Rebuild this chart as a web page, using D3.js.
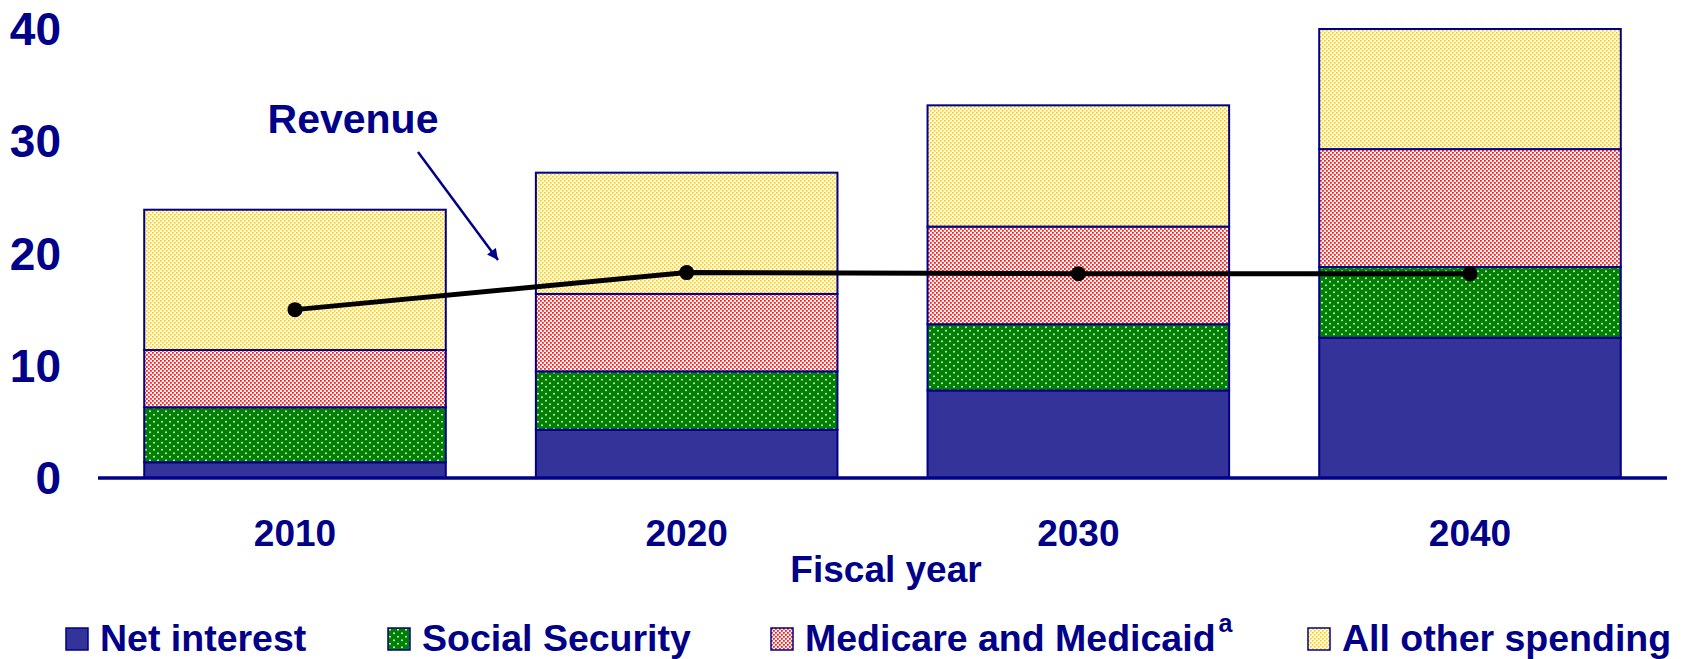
<!DOCTYPE html>
<html>
<head>
<meta charset="utf-8">
<script src="https://cdn.jsdelivr.net/npm/d3@7"></script>
<style>
  body { margin: 0; background: #fff; }
  text { font-family: Arial, "Liberation Sans", sans-serif; font-weight: bold; fill: #000088; }
</style>
</head>
<body>
<div class="chart"></div>
<script>
// values, % of GDP
const years = ["2010", "2020", "2030", "2040"]
const netInterest = [1.4, 4.3, 7.8, 12.5]
const socialSecurity = [4.9, 5.2, 5.9, 6.3]
const medicare = [5.1, 6.9, 8.7, 10.5]
const otherSpending = [12.5, 10.8, 10.8, 10.7]
const revenue = [15.0, 18.3, 18.2, 18.2]
const yTicks = [0, 10, 20, 30, 40]
const seriesNames = ["Net interest", "Social Security", "Medicare and Medicaid", "All other spending"]

const width = 1684
const height = 659
const navy = "#000088"

const rows = years.map((yr, i) => ({
    year: yr,
    net: netInterest[i],
    ss: socialSecurity[i],
    med: medicare[i],
    other: otherSpending[i]
}))
const keys = ["net", "ss", "med", "other"]
const fills = ["#333399", "url(#pGreen)", "url(#pRed)", "url(#pYellow)"]

const xScale = d3.scaleBand()
    .domain(years)
    .range([98, 1667])
    .paddingInner(0.23)
    .paddingOuter(0.118)

const yScale = d3.scaleLinear()
    .domain([0, 40])
    .range([478, 29])

let svg = d3.select(".chart")
    .append("svg")
    .attr("width", width)
    .attr("height", height)

// dotted fills
const defs = svg.append("defs")
const pg = defs.append("pattern").attr("id", "pGreen")
    .attr("patternUnits", "userSpaceOnUse").attr("width", 8).attr("height", 7)
pg.append("rect").attr("width", 8).attr("height", 7).attr("fill", "#008000")
pg.append("circle").attr("cx", 2).attr("cy", 1.75).attr("r", 0.9).attr("fill", "#e8f4e8")
pg.append("circle").attr("cx", 6).attr("cy", 5.25).attr("r", 0.9).attr("fill", "#e8f4e8")

const pr = defs.append("pattern").attr("id", "pRed")
    .attr("patternUnits", "userSpaceOnUse").attr("width", 4).attr("height", 4)
pr.append("rect").attr("width", 4).attr("height", 4).attr("fill", "#fff4f4")
pr.append("rect").attr("x", 0).attr("y", 0).attr("width", 1.8).attr("height", 1.8).attr("fill", "#ff2020")
pr.append("rect").attr("x", 2).attr("y", 2).attr("width", 1.8).attr("height", 1.8).attr("fill", "#ff2020")

const py = defs.append("pattern").attr("id", "pYellow")
    .attr("patternUnits", "userSpaceOnUse").attr("width", 4).attr("height", 4)
py.append("rect").attr("width", 4).attr("height", 4).attr("fill", "#fffbe8")
py.append("rect").attr("x", 0).attr("y", 0).attr("width", 1.6).attr("height", 1.6).attr("fill", "#ffcc00")
py.append("rect").attr("x", 2).attr("y", 2).attr("width", 1.6).attr("height", 1.6).attr("fill", "#ffcc00")

const stacked = d3.stack().keys(keys)(rows)

svg.append("g")
    .selectAll("g")
    .data(stacked)
    .join("g")
    .attr("fill", (d, i) => fills[i])
    .selectAll("rect")
    .data(d => d)
    .join("rect")
    .attr("x", d => xScale(d.data.year))
    .attr("y", d => yScale(d[1]))
    .attr("width", xScale.bandwidth())
    .attr("height", d => yScale(d[0]) - yScale(d[1]))
    .attr("stroke", navy)
    .attr("stroke-width", 2)

// x axis line
svg.append("line")
    .attr("x1", 98).attr("x2", 1667)
    .attr("y1", yScale(0)).attr("y2", yScale(0))
    .attr("stroke", navy)
    .attr("stroke-width", 3.5)

// y tick labels
svg.append("g")
    .selectAll("text")
    .data(yTicks)
    .join("text")
    .attr("x", 61)
    .attr("y", d => yScale(d))
    .attr("dy", "0.35em")
    .attr("text-anchor", "end")
    .attr("font-size", 46)
    .text(d => d)

// x tick labels
svg.append("g")
    .selectAll("text")
    .data(years)
    .join("text")
    .attr("x", d => xScale(d) + xScale.bandwidth() / 2)
    .attr("y", 546)
    .attr("text-anchor", "middle")
    .attr("font-size", 37)
    .text(d => d)

svg.append("text")
    .attr("x", 886)
    .attr("y", 582)
    .attr("text-anchor", "middle")
    .attr("font-size", 37)
    .text("Fiscal year")

// revenue line
const line = d3.line()
    .x((d, i) => xScale(years[i]) + xScale.bandwidth() / 2)
    .y(d => yScale(d))

svg.append("path")
    .datum(revenue)
    .attr("d", line)
    .attr("fill", "none")
    .attr("stroke", "#000")
    .attr("stroke-width", 5)

svg.append("g")
    .selectAll("circle")
    .data(revenue)
    .join("circle")
    .attr("cx", (d, i) => xScale(years[i]) + xScale.bandwidth() / 2)
    .attr("cy", d => yScale(d))
    .attr("r", 7.5)
    .attr("fill", "#000")

// revenue annotation
defs.append("marker")
    .attr("id", "arrow")
    .attr("viewBox", "0 0 10 10")
    .attr("refX", 10).attr("refY", 5)
    .attr("markerWidth", 12).attr("markerHeight", 11)
    .attr("markerUnits", "userSpaceOnUse")
    .attr("orient", "auto")
    .append("path")
    .attr("d", "M0,0 L10,5 L0,10 z")
    .attr("fill", navy)

svg.append("text")
    .attr("x", 353)
    .attr("y", 133)
    .attr("text-anchor", "middle")
    .attr("font-size", 41)
    .text("Revenue")

svg.append("line")
    .attr("x1", 418).attr("y1", 152)
    .attr("x2", 498).attr("y2", 260)
    .attr("stroke", navy)
    .attr("stroke-width", 2.5)
    .attr("marker-end", "url(#arrow)")

// legend
const legendX = [66, 388, 771, 1308]
const lg = svg.append("g")
    .selectAll("g")
    .data(seriesNames)
    .join("g")
    .attr("transform", (d, i) => `translate(${legendX[i]},628)`)

lg.append("rect")
    .attr("width", 22)
    .attr("height", 22)
    .attr("fill", (d, i) => fills[i])
    .attr("stroke", navy)
    .attr("stroke-width", 1.5)

lg.append("text")
    .attr("x", 34)
    .attr("y", 23)
    .attr("font-size", 37.5)
    .text(d => d)
    .filter((d, i) => i === 2)
    .append("tspan")
    .attr("dy", -19)
    .attr("dx", 3)
    .attr("font-size", 25)
    .text("a")
</script>
</body>
</html>
